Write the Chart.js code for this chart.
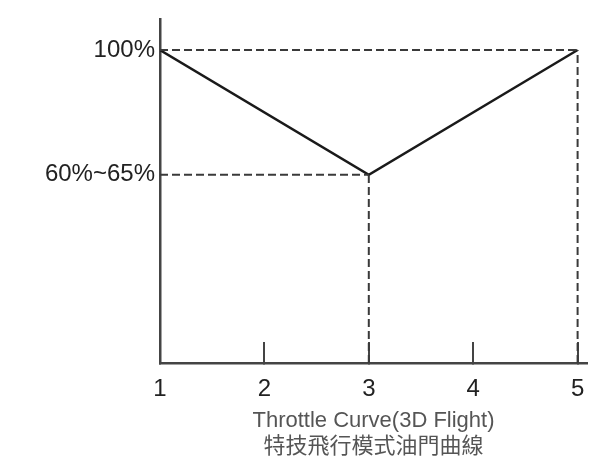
<!DOCTYPE html>
<html>
<head>
<meta charset="utf-8">
<script src="https://cdn.jsdelivr.net/npm/chart.js@4"></script>
<style>
  html, body { margin: 0; padding: 0; background: #fff; }
  #wrap { width: 590px; height: 459px; position: relative; }
</style>
</head>
<body>
<div id="wrap"><canvas id="curveChart"></canvas></div>
<script>
const stickPositions = [1, 2, 3, 4, 5];
const curveX = [1, 3, 5];
const curveY = [100, 62.5, 100];
const yTickValues = [62.5, 100];
const yTickLabels = ['60%~65%', '100%'];
const titleLines = ['Throttle Curve(3D Flight)', '特技飛行模式油門曲線'];

const yMin = 6;
const yMax = 109.3;

const curvePoints = curveX.map((x, i) => ({ x, y: curveY[i] }));

// dashed guides: from the y axis across to each point, and down from each point to the x axis
const guideSets = [];
curvePoints.slice(1).forEach(p => {
  guideSets.push([{ x: curveX[0], y: p.y }, { x: p.x, y: p.y }]);
  guideSets.push([{ x: p.x, y: yMin }, { x: p.x, y: p.y }]);
});

const guideStyle = {
  showLine: true,
  borderColor: '#3a3a3a',
  borderWidth: 2,
  borderDash: [8, 4],
  pointRadius: 0,
  fill: false
};

const datasets = guideSets.map(pts => Object.assign({ data: pts }, guideStyle));
datasets.push({
  data: curvePoints,
  showLine: true,
  borderColor: '#1a1a1a',
  borderWidth: 2.5,
  pointRadius: 0,
  fill: false
});

const ctx = document.getElementById('curveChart').getContext('2d');
new Chart(ctx, {
  type: 'scatter',
  data: { datasets },
  options: {
    responsive: true,
    maintainAspectRatio: false,
    animation: false,
    layout: { padding: { top: 19, right: 3, left: 0, bottom: 0 } },
    plugins: {
      legend: { display: false },
      tooltip: { enabled: false }
    },
    scales: {
      x: {
        type: 'linear',
        min: 1,
        max: 5.09,
        afterBuildTicks: s => { s.ticks = stickPositions.map(v => ({ value: v })); },
        afterFit: s => {
          s.height = 96;
          s.paddingLeft = 0;
          s.paddingRight = 0;
        },
        grid: {
          display: true,
          drawOnChartArea: false,
          drawTicks: true,
          tickLength: -21,
          color: '#444',
          lineWidth: 2
        },
        border: { display: true, color: '#444', width: 2.5 },
        ticks: {
          padding: 33,
          color: '#222',
          maxRotation: 0,
          font: { family: 'Liberation Sans, Arial, sans-serif', size: 24 },
          callback: v => String(v)
        },
        title: {
          display: true,
          text: titleLines,
          color: '#555',
          padding: { top: 0, bottom: 0 },
          font: { family: 'Liberation Sans, Noto Sans CJK TC, sans-serif', size: 22, lineHeight: 1.14 }
        }
      },
      y: {
        type: 'linear',
        min: yMin,
        max: yMax,
        afterBuildTicks: s => { s.ticks = yTickValues.map(v => ({ value: v })); },
        afterFit: s => {
          s.width = 160;
          s.paddingTop = 0;
          s.paddingBottom = 0;
        },
        grid: { display: false, drawTicks: false },
        border: { display: true, color: '#444', width: 2.5 },
        ticks: {
          padding: 5,
          color: '#222',
          font: { family: 'Liberation Sans, Arial, sans-serif', size: 24 },
          callback: v => yTickLabels[yTickValues.indexOf(v)]
        }
      }
    }
  }
});
</script>
</body>
</html>
